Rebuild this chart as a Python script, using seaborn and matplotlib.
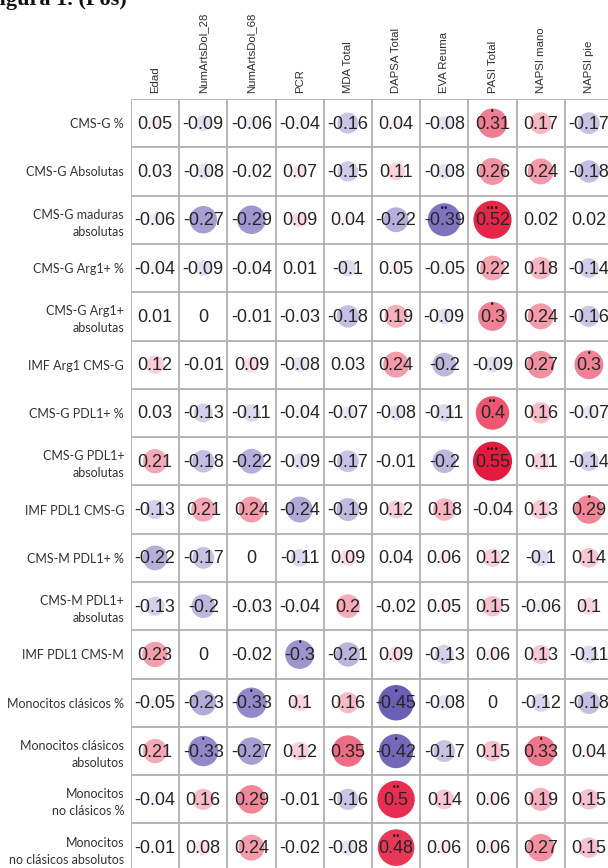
import numpy as np
import pandas as pd
import matplotlib
matplotlib.use("Agg")
import matplotlib.pyplot as plt
from matplotlib.colors import LinearSegmentedColormap
import seaborn as sns

# Clinical variables (columns) and monocyte / MDSC populations (rows)
columns = ["Edad", "NumArtsDol_28", "NumArtsDol_68", "PCR", "MDA Total",
           "DAPSA Total", "EVA Reuma", "PASI Total", "NAPSI mano", "NAPSI pie"]

rows = ["CMS-G %", "CMS-G Absolutas", "CMS-G maduras\nabsolutas", "CMS-G Arg1+ %",
        "CMS-G Arg1+\nabsolutas", "IMF Arg1 CMS-G", "CMS-G PDL1+ %",
        "CMS-G PDL1+\nabsolutas", "IMF PDL1 CMS-G", "CMS-M PDL1+ %",
        "CMS-M PDL1+\nabsolutas", "IMF PDL1 CMS-M", "Monocitos clásicos %",
        "Monocitos clásicos\nabsolutos", "Monocitos\nno clásicos %",
        "Monocitos\nno clásicos absolutos"]

# Spearman correlation coefficients, one list per row
r_cms_g_pct = [0.05, -0.09, -0.06, -0.04, -0.16, 0.04, -0.08, 0.31, 0.17, -0.17]
r_cms_g_abs = [0.03, -0.08, -0.02, 0.07, -0.15, 0.11, -0.08, 0.26, 0.24, -0.18]
r_cms_g_mad_abs = [-0.06, -0.27, -0.29, 0.09, 0.04, -0.22, -0.39, 0.52, 0.02, 0.02]
r_cms_g_arg1_pct = [-0.04, -0.09, -0.04, 0.01, -0.1, 0.05, -0.05, 0.22, 0.18, -0.14]
r_cms_g_arg1_abs = [0.01, 0, -0.01, -0.03, -0.18, 0.19, -0.09, 0.3, 0.24, -0.16]
r_imf_arg1_cms_g = [0.12, -0.01, 0.09, -0.08, 0.03, 0.24, -0.2, -0.09, 0.27, 0.3]
r_cms_g_pdl1_pct = [0.03, -0.13, -0.11, -0.04, -0.07, -0.08, -0.11, 0.4, 0.16, -0.07]
r_cms_g_pdl1_abs = [0.21, -0.18, -0.22, -0.09, -0.17, -0.01, -0.2, 0.55, 0.11, -0.14]
r_imf_pdl1_cms_g = [-0.13, 0.21, 0.24, -0.24, -0.19, 0.12, 0.18, -0.04, 0.13, 0.29]
r_cms_m_pdl1_pct = [-0.22, -0.17, 0, -0.11, 0.09, 0.04, 0.06, 0.12, -0.1, 0.14]
r_cms_m_pdl1_abs = [-0.13, -0.2, -0.03, -0.04, 0.2, -0.02, 0.05, 0.15, -0.06, 0.1]
r_imf_pdl1_cms_m = [0.23, 0, -0.02, -0.3, -0.21, 0.09, -0.13, 0.06, 0.13, -0.11]
r_mono_clas_pct = [-0.05, -0.23, -0.33, 0.1, 0.16, -0.45, -0.08, 0, -0.12, -0.18]
r_mono_clas_abs = [0.21, -0.33, -0.27, 0.12, 0.35, -0.42, -0.17, 0.15, 0.33, 0.04]
r_mono_noclas_pct = [-0.04, 0.16, 0.29, -0.01, -0.16, 0.5, 0.14, 0.06, 0.19, 0.15]
r_mono_noclas_abs = [-0.01, 0.08, 0.24, -0.02, -0.08, 0.48, 0.06, 0.06, 0.27, 0.15]

# Significance level per cell (number of asterisks)
sig_cms_g_pct = [0, 0, 0, 0, 0, 0, 0, 1, 0, 0]
sig_cms_g_abs = [0, 0, 0, 0, 0, 0, 0, 0, 0, 0]
sig_cms_g_mad_abs = [0, 0, 0, 0, 0, 0, 2, 3, 0, 0]
sig_cms_g_arg1_pct = [0, 0, 0, 0, 0, 0, 0, 0, 0, 0]
sig_cms_g_arg1_abs = [0, 0, 0, 0, 0, 0, 0, 1, 0, 0]
sig_imf_arg1_cms_g = [0, 0, 0, 0, 0, 0, 0, 0, 0, 1]
sig_cms_g_pdl1_pct = [0, 0, 0, 0, 0, 0, 0, 2, 0, 0]
sig_cms_g_pdl1_abs = [0, 0, 0, 0, 0, 0, 0, 3, 0, 0]
sig_imf_pdl1_cms_g = [0, 0, 0, 0, 0, 0, 0, 0, 0, 1]
sig_cms_m_pdl1_pct = [0, 0, 0, 0, 0, 0, 0, 0, 0, 0]
sig_cms_m_pdl1_abs = [0, 0, 0, 0, 0, 0, 0, 0, 0, 0]
sig_imf_pdl1_cms_m = [0, 0, 0, 1, 0, 0, 0, 0, 0, 0]
sig_mono_clas_pct = [0, 0, 1, 0, 0, 1, 0, 0, 0, 0]
sig_mono_clas_abs = [0, 1, 0, 0, 0, 1, 0, 0, 1, 0]
sig_mono_noclas_pct = [0, 0, 0, 0, 0, 2, 0, 0, 0, 0]
sig_mono_noclas_abs = [0, 0, 0, 0, 0, 2, 0, 0, 0, 0]

corr = np.array([r_cms_g_pct, r_cms_g_abs, r_cms_g_mad_abs, r_cms_g_arg1_pct,
                 r_cms_g_arg1_abs, r_imf_arg1_cms_g, r_cms_g_pdl1_pct,
                 r_cms_g_pdl1_abs, r_imf_pdl1_cms_g, r_cms_m_pdl1_pct,
                 r_cms_m_pdl1_abs, r_imf_pdl1_cms_m, r_mono_clas_pct,
                 r_mono_clas_abs, r_mono_noclas_pct, r_mono_noclas_abs])
sig = np.array([sig_cms_g_pct, sig_cms_g_abs, sig_cms_g_mad_abs, sig_cms_g_arg1_pct,
                sig_cms_g_arg1_abs, sig_imf_arg1_cms_g, sig_cms_g_pdl1_pct,
                sig_cms_g_pdl1_abs, sig_imf_pdl1_cms_g, sig_cms_m_pdl1_pct,
                sig_cms_m_pdl1_abs, sig_imf_pdl1_cms_m, sig_mono_clas_pct,
                sig_mono_clas_abs, sig_mono_noclas_pct, sig_mono_noclas_abs])

n_rows, n_cols = corr.shape
ri, ci = np.meshgrid(np.arange(n_rows), np.arange(n_cols), indexing="ij")
df = pd.DataFrame({"row": ri.ravel(), "col": ci.ravel(),
                   "r": corr.ravel(), "absr": np.abs(corr.ravel()),
                   "sig": sig.ravel()})

sns.set_theme(style="white")
plt.rcParams["font.family"] = ["Liberation Sans", "DejaVu Sans"]

W, H = 608, 868
fig = plt.figure(figsize=(W / 100, H / 100), dpi=100)

# Grid area in pixels: cells of ~48 px, bottom and right edge run past the page
left_px, top_px = 131, 99
cell_w, cell_h = 48.2, 48.3
ax_w, ax_h = n_cols * cell_w, n_rows * cell_h
ax = fig.add_axes([left_px / W, 1 - (top_px + ax_h) / H, ax_w / W, ax_h / H])

cmap = LinearSegmentedColormap.from_list("bwr_corr", ["#4b3aa6", "#ffffff", "#e61a3f"])

# Circle area proportional to |r|
sns.scatterplot(data=df, x="col", y="row", hue="r", size="absr",
                palette=cmap, hue_norm=(-0.55, 0.55),
                sizes=(0, 1450), size_norm=(0, 1),
                linewidth=0, legend=False, ax=ax, zorder=2)

for _, rec in df.iterrows():
    ax.text(rec["col"], rec["row"] + 0.02, f"{rec['r']:g}", ha="center", va="center",
            fontsize=13, color="#262626", zorder=4)
    if rec["sig"] > 0:
        ax.text(rec["col"], rec["row"] - 0.24, "•" * int(rec["sig"]),
                ha="center", va="center", fontsize=5.5, color="#111111",
                family="DejaVu Sans", zorder=5)

# Cell borders
for k in range(n_cols + 1):
    ax.axvline(k - 0.5, color="#b0b0b0", lw=1.3, zorder=1)
for k in range(n_rows + 1):
    ax.axhline(k - 0.5, color="#b0b0b0", lw=1.3, zorder=1)

ax.set_xlim(-0.5, n_cols - 0.5)
ax.set_ylim(n_rows - 0.5, -0.5)
for s in ax.spines.values():
    s.set_visible(False)

ax.set_xticks(range(n_cols))
ax.set_xticklabels(columns, rotation=90, fontsize=8.2, color="#2e2e2e")
ax.xaxis.tick_top()
ax.set_yticks(range(n_rows))
ax.set_yticklabels(rows, fontsize=9, color="#333333", family=["Lato", "DejaVu Sans"],
                   linespacing=1.5)
ax.tick_params(axis="x", length=0, pad=4)
ax.tick_params(axis="y", length=0, pad=5)
ax.set_xlabel("")
ax.set_ylabel("")

fig.text(-14 / W, 1 - 5 / H, "Figura 1. (Pos)", fontsize=16, fontweight="bold",
         family=["Liberation Serif", "DejaVu Serif"], va="baseline", ha="left",
         color="#111111")

fig.savefig("out.png", dpi=100)
